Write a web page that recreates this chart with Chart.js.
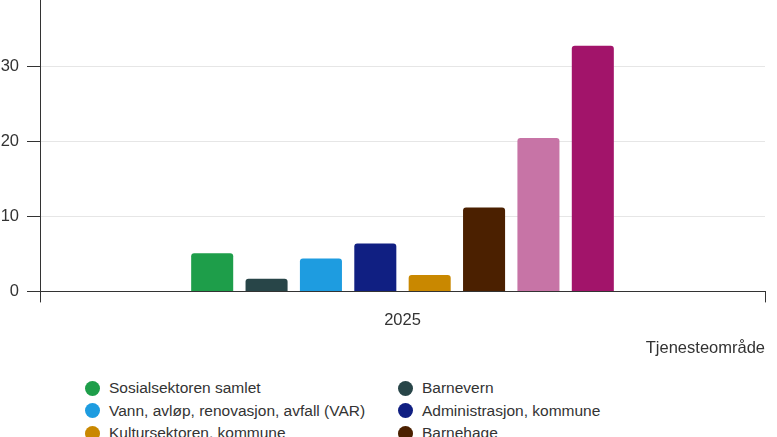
<!DOCTYPE html>
<html>
<head>
<meta charset="utf-8">
<script src="https://cdn.jsdelivr.net/npm/chart.js@4"></script>
<style>
  html, body { margin: 0; padding: 0; background: #fff; overflow: hidden; }
  body { width: 777px; height: 437px; position: relative; font-family: "Liberation Sans", Arial, sans-serif; }
  #wrap { position: absolute; left: 0; top: -26px; width: 777px; height: 384px; }
  #legend { position: absolute; left: 0; top: 377px; width: 777px; }
  .lg-item { position: absolute; height: 22px; line-height: 22px; font-size: 15.5px; color: #333; white-space: nowrap; }
  .lg-dot { position: absolute; left: -24px; top: 3.5px; width: 15px; height: 15px; border-radius: 50%; }
</style>
</head>
<body>
<div id="wrap"><canvas id="chart"></canvas></div>
<div id="legend"></div>
<script>
// ── Data ────────────────────────────────
const CATEGORIES = ['2025'];
const SERIES_NAMES = [
  'Sosialsektoren samlet',
  'Barnevern',
  'Vann, avløp, renovasjon, avfall (VAR)',
  'Administrasjon, kommune',
  'Kultursektoren, kommune',
  'Barnehage',
  'Grunnskole',
  'Pleie og omsorg'
];
const SERIES_VALUES = [5.1, 1.7, 4.4, 6.4, 2.2, 11.2, 20.5, 32.8];
const SERIES_COLORS = ['#1e9e4a', '#284548', '#1e9ce0', '#101f82', '#c98800', '#4b2000', '#c774a6', '#a2146a'];
const Y_TICKS = [0, 10, 20, 30, 40];
const X_TITLE = 'Tjenesteområde';

const AXIS = '#333';
const FONT = { family: '"Liberation Sans", Arial, sans-serif', size: 16.5 };

const datasets = SERIES_NAMES.map((name, i) => ({
  label: name,
  data: [SERIES_VALUES[i]],
  backgroundColor: SERIES_COLORS[i],
  borderRadius: 3,
  categoryPercentage: 0.6,
  barPercentage: 0.773
}));

new Chart(document.getElementById('chart'), {
  type: 'bar',
  data: { labels: CATEGORIES, datasets },
  options: {
    responsive: true,
    maintainAspectRatio: false,
    animation: false,
    layout: { padding: { top: 0, right: 12, bottom: 0, left: 0 } },
    plugins: { legend: { display: false }, tooltip: { enabled: false } },
    scales: {
      x: {
        grid: { display: true, drawOnChartArea: false, tickLength: 11, tickColor: AXIS, offset: true },
        border: { color: AXIS, width: 1 },
        ticks: { color: '#333', font: FONT, padding: 8 },
        title: { display: true, text: X_TITLE, align: 'end', color: '#333', font: FONT, padding: { top: 0, bottom: 0 } }
      },
      y: {
        min: Y_TICKS[0],
        max: Y_TICKS[Y_TICKS.length - 1],
        afterBuildTicks: s => { s.ticks = Y_TICKS.map(v => ({ value: v })); },
        afterFit: s => { s.width = 40; },
        grid: { color: '#e6e6e6', tickLength: 13, tickColor: AXIS },
        border: { color: AXIS, width: 1 },
        ticks: { color: '#333', font: FONT, padding: 8 }
      }
    }
  }
});

// ── Legend (two columns) ────────────────
const legend = document.getElementById('legend');
const COL_X = [109, 422];
SERIES_NAMES.forEach((name, i) => {
  const el = document.createElement('div');
  el.className = 'lg-item';
  el.style.left = COL_X[i % 2] + 'px';
  el.style.top = (Math.floor(i / 2) * 22.5) + 'px';
  el.innerHTML = `<span class="lg-dot" style="background:${SERIES_COLORS[i]}"></span>${name}`;
  legend.appendChild(el);
});
</script>
</body>
</html>
